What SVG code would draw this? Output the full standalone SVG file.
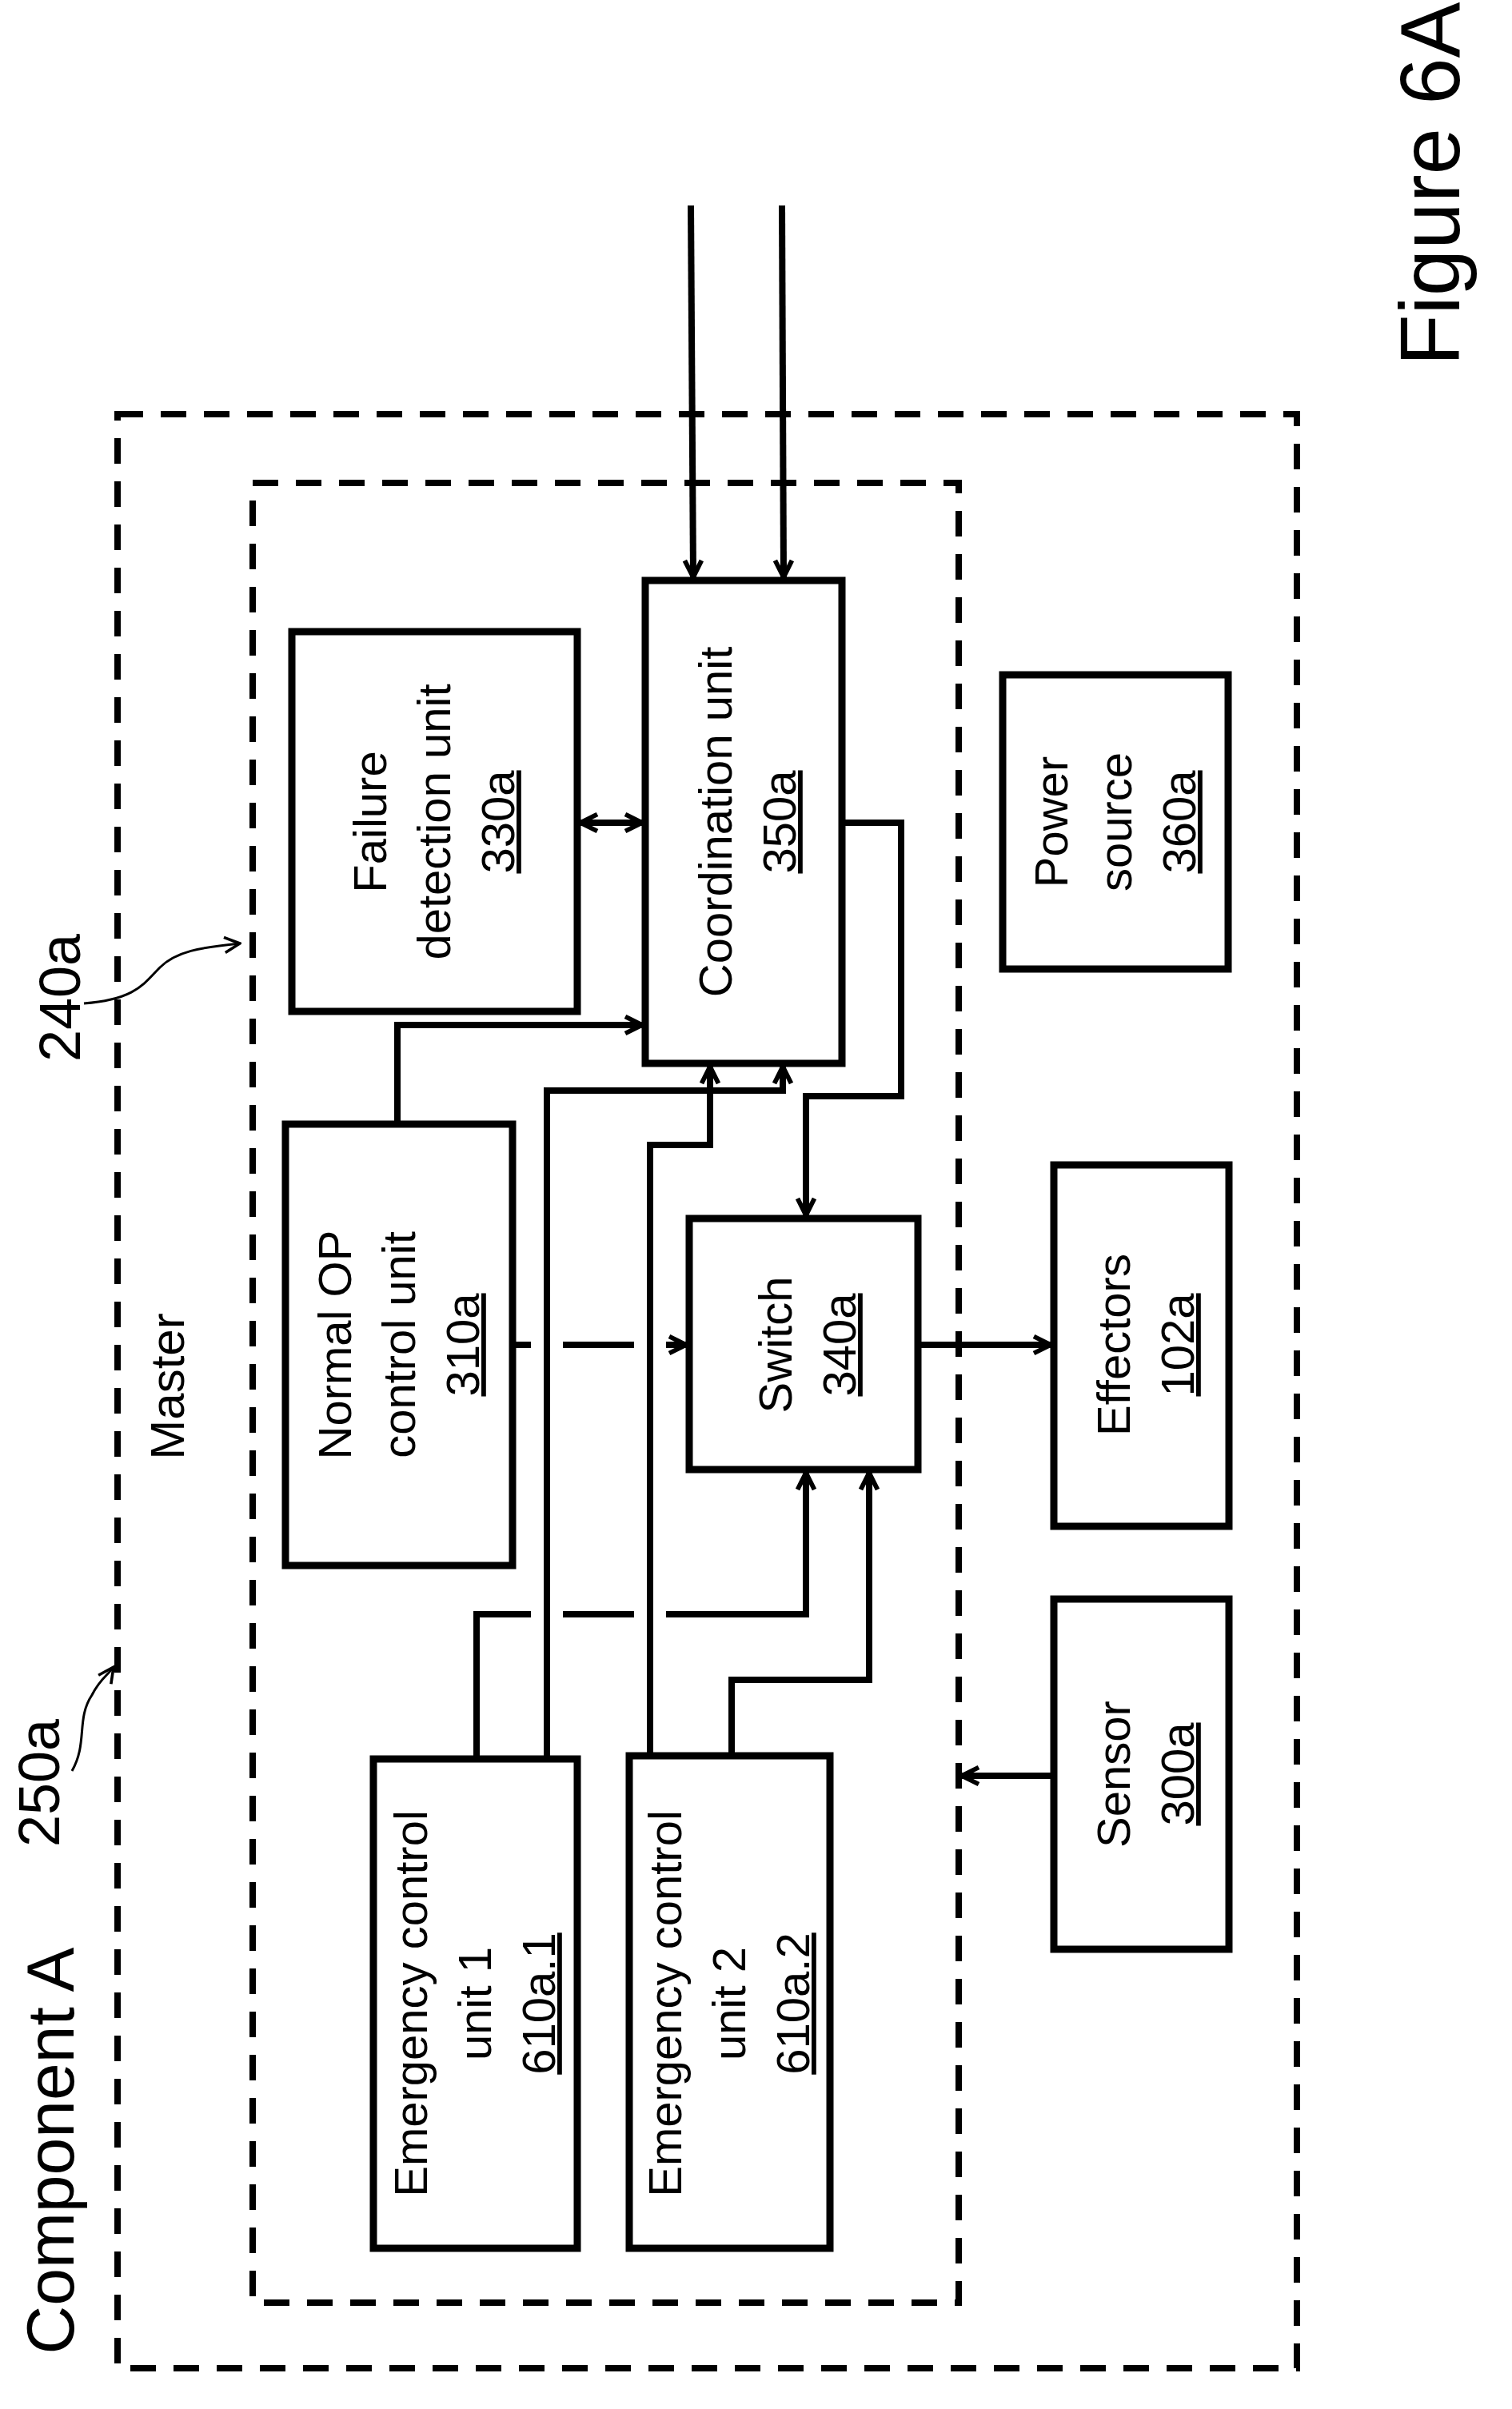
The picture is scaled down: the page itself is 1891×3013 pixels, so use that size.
<svg xmlns="http://www.w3.org/2000/svg" width="1891" height="3013" viewBox="0 0 1891 3013">
<defs>
<marker id="ah" viewBox="0 0 24 24" refX="21" refY="12" markerWidth="28" markerHeight="28" markerUnits="userSpaceOnUse" orient="auto-start-reverse"><path d="M3,3 L21,12 L3,21" fill="none" stroke="#000" stroke-width="5"/></marker>
<marker id="ahs" viewBox="0 0 20 20" refX="18" refY="10" markerWidth="24" markerHeight="24" markerUnits="userSpaceOnUse" orient="auto"><path d="M2,2 L18,10 L2,18" fill="none" stroke="#000" stroke-width="3"/></marker>
</defs>
<style>
.box{fill:#fff;stroke:#000;stroke-width:9}
.dash{fill:none;stroke:#000;stroke-width:8;stroke-dasharray:32,22}
.ln{fill:none;stroke:#000;stroke-width:8}
text{font-family:"Liberation Sans",Arial,sans-serif;fill:#000}
.t{font-size:58px;text-anchor:middle}
</style>
<rect width="1891" height="3013" fill="#fff"/>
<g id="component-a"><rect class="dash" x="147" y="518" width="1475" height="2444"/>
<text font-size="84" transform="translate(92,2690) rotate(-90)" text-anchor="middle">Component A</text></g>
<g id="master"><rect class="dash" x="316" y="604" width="883" height="2276"/>
<text font-size="60" transform="translate(230,1734) rotate(-90)" text-anchor="middle">Master</text></g>
<text font-size="105" transform="translate(1825,230) rotate(-90)" text-anchor="middle">Figure 6A</text>
<text font-size="72" transform="translate(100,1248) rotate(-90)" text-anchor="middle">240a</text>
<text font-size="72" transform="translate(74,2230) rotate(-90)" text-anchor="middle">250a</text>
<path class="ln" style="stroke-width:3" d="M105,1255 C170,1250 180,1230 200,1210 C220,1190 250,1185 300,1180" marker-end="url(#ahs)"/>
<path class="ln" style="stroke-width:3" d="M90,2215 C110,2180 95,2150 115,2120 C125,2100 135,2095 142,2085" marker-end="url(#ahs)"/>
<g id="n330"><rect class="box" x="365" y="790" width="357" height="475"/>
<text class="t" transform="translate(543,1028) rotate(-90)"><tspan x="0" dy="-60">Failure</tspan><tspan x="0" dy="80">detection unit</tspan><tspan x="0" dy="80" text-decoration="underline">330a</tspan></text></g>
<g id="n350"><rect class="box" x="807" y="726" width="246" height="604"/>
<text class="t" transform="translate(930,1028) rotate(-90)"><tspan x="0" dy="-15">Coordination unit</tspan><tspan x="0" dy="80" text-decoration="underline">350a</tspan></text></g>
<g id="n360"><rect class="box" x="1254" y="844" width="282" height="368"/>
<text class="t" transform="translate(1395,1028) rotate(-90)"><tspan x="0" dy="-60">Power</tspan><tspan x="0" dy="80">source</tspan><tspan x="0" dy="80" text-decoration="underline">360a</tspan></text></g>
<g id="n310"><rect class="box" x="357" y="1406" width="284" height="552"/>
<text class="t" transform="translate(499,1682) rotate(-90)"><tspan x="0" dy="-60">Normal OP</tspan><tspan x="0" dy="80">control unit</tspan><tspan x="0" dy="80" text-decoration="underline">310a</tspan></text></g>
<g id="n340"><rect class="box" x="862" y="1524" width="286" height="314"/>
<text class="t" transform="translate(1005,1682) rotate(-90)"><tspan x="0" dy="-15">Switch</tspan><tspan x="0" dy="80" text-decoration="underline">340a</tspan></text></g>
<g id="n102"><rect class="box" x="1318" y="1457" width="219" height="452"/>
<text class="t" transform="translate(1428,1682) rotate(-90)"><tspan x="0" dy="-15">Effectors</tspan><tspan x="0" dy="80" text-decoration="underline">102a</tspan></text></g>
<g id="n300"><rect class="box" x="1318" y="2000" width="219" height="438"/>
<text class="t" transform="translate(1428,2219) rotate(-90)"><tspan x="0" dy="-15">Sensor</tspan><tspan x="0" dy="80" text-decoration="underline">300a</tspan></text></g>
<g id="n610a1"><rect class="box" x="467" y="2200" width="255" height="612"/>
<text class="t" transform="translate(594,2506) rotate(-90)"><tspan x="0" dy="-60">Emergency control</tspan><tspan x="0" dy="80">unit 1</tspan><tspan x="0" dy="80" text-decoration="underline">610a.1</tspan></text></g>
<g id="n610a2"><rect class="box" x="787" y="2196" width="251" height="616"/>
<text class="t" transform="translate(912,2506) rotate(-90)"><tspan x="0" dy="-60">Emergency control</tspan><tspan x="0" dy="80">unit 2</tspan><tspan x="0" dy="80" text-decoration="underline">610a.2</tspan></text></g>
<g id="connectors">
<path class="ln" d="M864,257 L867,722" marker-end="url(#ah)"/>
<path class="ln" d="M978,257 L980,722" marker-end="url(#ah)"/>
<path class="ln" d="M726,1029 L803,1029" marker-start="url(#ah)" marker-end="url(#ah)"/>
<path class="ln" d="M497,1406 L497,1282 L803,1282" marker-end="url(#ah)"/>
<path class="ln" d="M1053,1029 L1127,1029 L1127,1371 L1008,1371 L1008,1520" marker-end="url(#ah)"/>
<path class="ln" d="M684,2200 L684,1364 L979,1364 L979,1334" marker-end="url(#ah)"/>
<path class="ln" d="M813,2196 L813,1432 L888,1432 L888,1334" marker-end="url(#ah)"/>
<path class="ln" d="M641,1682 L664,1682 M704,1682 L793,1682 M833,1682 L858,1682" marker-end="url(#ah)"/>
<path class="ln" d="M596,2200 L596,2019 L664,2019 M704,2019 L793,2019 M833,2019 L1008,2019 L1008,1842" marker-end="url(#ah)"/>
<path class="ln" d="M915,2196 L915,2101 L1087,2101 L1087,1842" marker-end="url(#ah)"/>
<path class="ln" d="M1148,1682 L1314,1682" marker-end="url(#ah)"/>
<path class="ln" d="M1318,2221 L1203,2221" marker-end="url(#ah)"/>
</g>
</svg>
